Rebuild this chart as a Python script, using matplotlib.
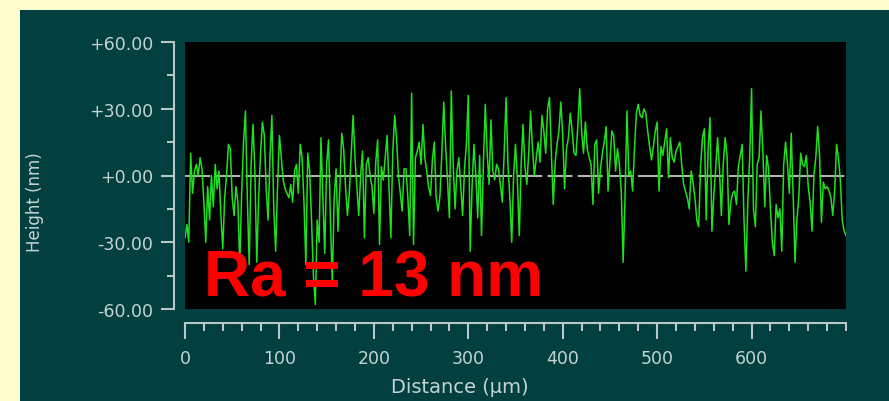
import numpy as np
import matplotlib
matplotlib.use("Agg")
import matplotlib.pyplot as plt
from matplotlib.patches import Rectangle
from matplotlib.ticker import MultipleLocator

# surface profile, one height (nm) every 2 um
step_um = 2
heights_0_140 = [-28, -22, -30, 10, -8, 2, 5, 0, 8, 3,
                 -12, -30, -5, -20, 0, -14, 5, -6, 2, -18,
                 -33, -10, 0, 14, 12, -10, -18, -5, -12, -40,
                 -8, 15, 29, -10, -40, 5, 23, 2, -39, -10,
                 10, 24, 18, -6, -20, 8, 27, -15, -34, -5,
                 18, 8, -2, -6, -8, -10, -4, -12, 2, 5,
                 -8, 14, 8, -12, -40, 10, 2, -20, -45, -58,
                 -20]
heights_142_280 = [-30, 17, -10, -35, 5, 16, -20, -48, -10, 3,
                   -25, -5, 19, 12, -5, -18, -8, 10, 27, 8,
                   -5, -18, 0, 11, -28, 5, 8, 0, -5, -17,
                   6, 16, -31, 4, -2, 8, 18, -5, -28, 10,
                   27, 17, 0, -8, -16, 3, 3, -10, -27, 37,
                   -31, 8, 11, 15, 5, 23, 8, 2, -5, -9,
                   7, 15, -10, -16, -9, 10, 33, 13, -2, -19]
heights_282_420 = [38, 5, -15, 2, 8, -5, -18, 3, 14, 36,
                   -34, -5, 14, 0, -19, 9, -27, 5, 32, 10,
                   -4, 25, 2, -2, 5, 3, -4, -12, 10, 35,
                   5, -10, -30, 0, 14, -2, -27, 5, 23, 4,
                   -4, 10, 29, 12, 0, 8, 15, 6, 27, 20,
                   10, 30, 35, 10, -13, 6, 14, 20, 33, 18,
                   -6, 12, 17, 28, 20, 10, 9, 22, 39, 20]
heights_422_560 = [10, 24, 12, 8, 5, -13, 14, 16, -8, 3,
                   10, 15, 22, -7, 6, 20, 18, 2, 12, 5,
                   -7, -39, -10, 29, 0, 2, -7, 12, 28, 32,
                   27, 26, 30, 28, 20, 13, 7, 13, 20, 24,
                   -7, 13, 9, 15, 21, -1, 17, 8, 6, 11,
                   13, 15, 5, -4, -7, -10, -15, 2, -3, -10,
                   -20, -23, 4, 17, 21, -20, 12, 26, -25, -9]
heights_562_700 = [3, 17, 3, -18, 5, 17, 9, -22, -12, -8,
                   -7, -13, 4, 9, 14, -20, -43, -12, 8, 39,
                   -15, -23, 5, 8, 29, 10, -14, 9, 3, -15,
                   -30, -36, -13, -19, -15, -34, 5, 15, 5, -8,
                   19, -8, -39, -20, -10, 10, 5, 4, 9, -5,
                   -12, -25, 0, 8, 22, 9, -21, -3, -6, -5,
                   -7, -10, -18, -7, 14, 8, -2, -20, -25, -27]

y_ticks = [60, 30, 0, -30, -60]
y_ticklabels = ["+60.00", "+30.00", "+0.00", "-30.00", "-60.00"]
x_ticks = [0, 100, 200, 300, 400, 500, 600]
ra_text = "Ra = 13 nm"

heights = np.array(heights_0_140 + heights_142_280 + heights_282_420
                   + heights_422_560 + heights_562_700)
distance = np.arange(len(heights)) * step_um

W, H = 889, 402
fig = plt.figure(figsize=(W / 100, H / 100), dpi=100, facecolor="#fffdd0")

# dark panel behind the plot
fig.patches.append(Rectangle((20 / W, 0), 1, (H - 11) / H, transform=fig.transFigure,
                             facecolor="#023f3f", edgecolor="none", zorder=0))

ax = fig.add_axes([185 / W, 1 - 310 / H, (846 - 185) / W, (310 - 43) / H])
ax.set_zorder(2)
ax.set_facecolor("black")
ax.set_xlim(0, 700)
ax.set_ylim(-60, 60)

axis_col = "#b8c8c8"
for s in ["top", "right"]:
    ax.spines[s].set_visible(False)
ax.spines["left"].set_position(("outward", 8))
ax.spines["bottom"].set_position(("outward", 10))
for s in ["left", "bottom"]:
    ax.spines[s].set_color(axis_col)
    ax.spines[s].set_linewidth(1.5)

ax.set_yticks(y_ticks)
ax.set_yticklabels(y_ticklabels)
ax.yaxis.set_minor_locator(MultipleLocator(15))
ax.set_xticks(x_ticks)
ax.xaxis.set_minor_locator(MultipleLocator(20))
ax.tick_params(axis="y", which="major", length=9.5, width=1.5, color=axis_col,
               labelcolor="#c4d4d4", labelsize=12.5, pad=5.5)
ax.tick_params(axis="y", which="minor", length=5, width=1.5, color=axis_col)
ax.tick_params(axis="x", which="major", length=11.5, width=1.5, color=axis_col,
               labelcolor="#c4d4d4", labelsize=12.5, pad=7)
ax.tick_params(axis="x", which="minor", length=6, width=1.5, color=axis_col)

# zero reference line
ax.axhline(0, color="#b4b4b4", lw=1.5, dashes=(12, 2.5), zorder=1)

ax.plot(distance, heights, color="#1ee01e", lw=1.1, zorder=2)

ax.text(20, -54, ra_text, color="#ff0000", fontsize=46, fontweight="bold",
        family="Liberation Sans", ha="left", va="baseline", zorder=3)

fig.text(35 / W, 1 - 202 / H, "Height (nm)", rotation=90, ha="center", va="center",
         color="#c4d4d4", fontsize=12)
fig.text(460 / W, 1 - 388 / H, "Distance (µm)", ha="center", va="center",
         color="#c4d4d4", fontsize=14)

fig.savefig("out.png", dpi=100, facecolor=fig.get_facecolor())
